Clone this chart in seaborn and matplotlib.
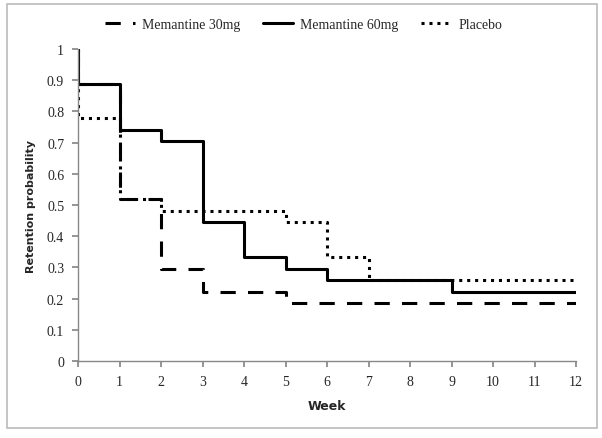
import matplotlib
matplotlib.use("Agg")
import matplotlib.pyplot as plt
import seaborn as sns
import pandas as pd
from matplotlib.patches import Rectangle

sns.set_theme(style="white")
plt.rcParams["font.family"] = ["Liberation Serif", "DejaVu Sans"]

# Kaplan-Meier style retention curves (step-post)
weeks_30 = [0, 0, 1, 2, 3, 5, 12]
surv_30 = [1.0, 0.889, 0.519, 0.296, 0.222, 0.185, 0.185]

weeks_60 = [0, 0, 1, 2, 3, 4, 5, 6, 9, 12]
surv_60 = [1.0, 0.889, 0.741, 0.704, 0.444, 0.333, 0.296, 0.259, 0.222, 0.222]

weeks_pl = [0, 0, 1, 2, 5, 6, 7, 12]
surv_pl = [1.0, 0.778, 0.519, 0.481, 0.444, 0.333, 0.259, 0.259]

labels = ["Memantine 30mg", "Memantine 60mg", "Placebo"]
styles = {"Memantine 30mg": (0, (5, 4)), "Memantine 60mg": "-", "Placebo": (0, (1, 1.6))}

fig = plt.figure(figsize=(6.02, 4.39), dpi=100)
ax = fig.add_axes([0.1296, 0.1754, 0.8274, 0.7106])

for lab, w, s in zip(labels, [weeks_30, weeks_60, weeks_pl], [surv_30, surv_60, surv_pl]):
    df = pd.DataFrame({"Week": w, "Retention": s})
    sns.lineplot(data=df, x="Week", y="Retention", ax=ax, estimator=None, sort=False,
                 drawstyle="steps-post", color="black", linewidth=2.2,
                 linestyle=styles[lab], label=lab)

ax.set_xlim(0, 12)
ax.set_ylim(0, 1)
ax.set_xticks(range(0, 13))
ax.set_yticks([i / 10 for i in range(11)])
ax.set_yticklabels(["0", "0.1", "0.2", "0.3", "0.4", "0.5", "0.6", "0.7", "0.8", "0.9", "1"])
ax.tick_params(axis="both", labelsize=10, length=4, color="#888888", direction="out",
               bottom=True, left=True, pad=6)
for sp in ["top", "right"]:
    ax.spines[sp].set_visible(False)
for sp in ["left", "bottom"]:
    ax.spines[sp].set_color("#888888")
    ax.spines[sp].set_linewidth(1)

ax.set_xlabel("Week", fontsize=9, fontweight="bold", family=["DejaVu Sans"], labelpad=8)
ax.set_ylabel("Retention probability", fontsize=8, fontweight="bold", family=["DejaVu Sans"], labelpad=8)

leg = ax.legend(loc="center left", bbox_to_anchor=(0.054, 1.078), ncol=3, frameon=False,
                fontsize=10, handlelength=2.2, columnspacing=1.6, handletextpad=0.5,
                borderaxespad=0, borderpad=0)

fig.patches.append(Rectangle((0.011, 0.022), 0.98, 0.966, transform=fig.transFigure,
                             fill=False, edgecolor="#bbbbbb", linewidth=1.2))

fig.savefig("out.png", dpi=100)
